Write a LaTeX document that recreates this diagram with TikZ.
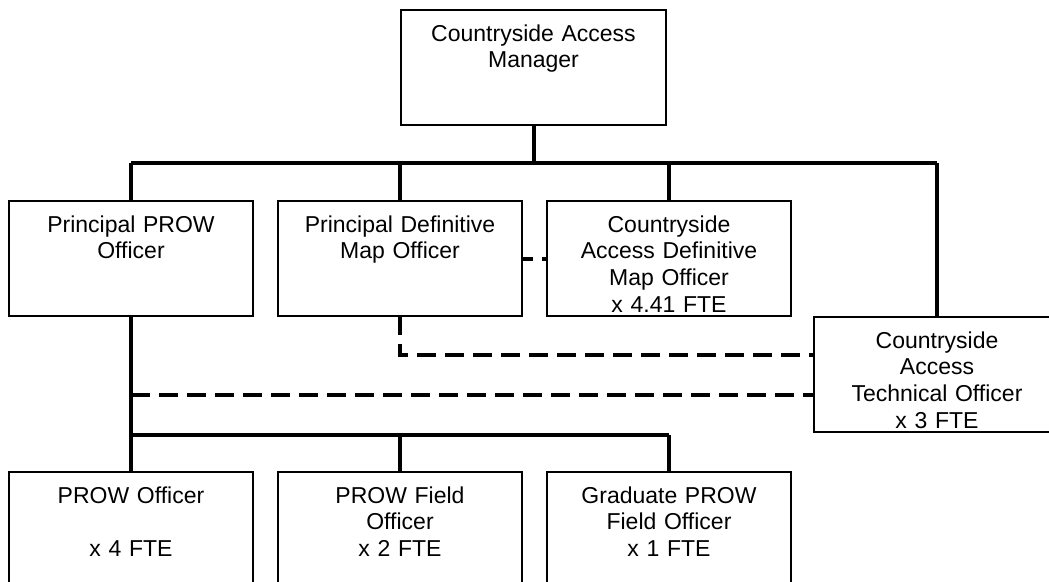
\documentclass[tikz,border=0pt]{standalone}
\usepackage{fontspec}
\setmainfont{Liberation Sans}
\usetikzlibrary{positioning}
\begin{document}
\begin{tikzpicture}[x=1pt,y=1pt,
        post/.style={draw,line width=2pt,inner sep=0pt,outer sep=0pt,align=center,text width=244pt,
            text height=31pt,text depth=84pt,font=\fontsize{23}{26.7}\selectfont},
        link/.style={line width=4pt},
        dashlink/.style={line width=4pt,dash pattern=on 19pt off 9pt}]
        \useasboundingbox (0,0) rectangle (1049,-581);
        \fill[white] (0,0) rectangle (1049,-581);
        \clip (0,0) rectangle (1049,-581);

        \node[post,text width=265pt,anchor=north] (mgr) at (533.5,-10) {Countryside Access\\Manager};
        \node[post,anchor=north west] (ppo) at (9,-201) {Principal PROW\\Officer};
        \node[post] (pdmo) [right=25pt of ppo] {Principal Definitive\\Map Officer};
        \node[post] (cadmo) [right=25pt of pdmo] {Countryside\\Access Definitive\\Map Officer\\x 4.41 FTE};
        \node[post,text width=246pt] (cato) [below right=1pt and 23pt of cadmo.south east] {Countryside\\Access\\Technical Officer\\x 3 FTE};
        \node[post] (po) [below=156pt of ppo] {PROW Officer\\[26.7pt]x 4 FTE};
        \node[post] (pfo) [right=25pt of po] {PROW Field\\Officer\\x 2 FTE};
        \node[post] (gpfo) [right=25pt of pfo] {Graduate PROW\\Field Officer\\x 1 FTE};

        \coordinate (topbus) at (0,-163);
        \coordinate (lowbus) at (0,-435);
        \coordinate (dasha) at (0,-355);
        \coordinate (dashb) at (0,-395);

        \draw[link] (mgr.south) -- (mgr.south |- topbus);
        \draw[link] (ppo.north |- topbus) -- (cato.north |- topbus);
        \foreach \n in {ppo,pdmo,cadmo,cato}
            \draw[link] (\n.north |- topbus) -- (\n.north);

        \draw[dashlink,dash phase=8pt] (pdmo.east) -- (cadmo.west);
        \draw[dashlink] (pdmo.south) |- (cato.west |- dasha);
        \draw[dashlink] (ppo.south |- dashb) -- (cato.west |- dashb);

        \draw[link] (ppo.south) -- (ppo.south |- lowbus);
        \draw[link] (po.north |- lowbus) -- (gpfo.north |- lowbus);
        \foreach \n in {po,pfo,gpfo}
            \draw[link] (\n.north |- lowbus) -- (\n.north);
    \end{tikzpicture}
\end{document}
